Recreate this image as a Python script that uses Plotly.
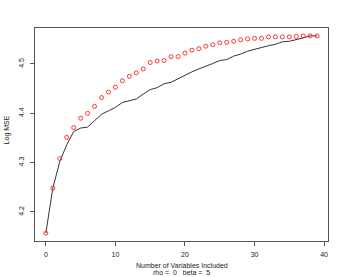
import plotly.graph_objects as go

n_vars = list(range(40))
line_logmse = [4.157, 4.248, 4.302, 4.336, 4.363, 4.370, 4.372, 4.385, 4.398, 4.405,
               4.412, 4.422, 4.425, 4.429, 4.439, 4.448, 4.452, 4.460, 4.463, 4.470,
               4.478, 4.484, 4.490, 4.495, 4.501, 4.507, 4.509, 4.516, 4.520, 4.526,
               4.530, 4.533, 4.537, 4.540, 4.545, 4.546, 4.549, 4.553, 4.557, 4.557]
point_logmse = [4.157, 4.248, 4.308, 4.351, 4.371, 4.390, 4.400, 4.414, 4.432, 4.443,
                4.453, 4.466, 4.475, 4.482, 4.490, 4.503, 4.506, 4.507, 4.515, 4.515,
                4.522, 4.528, 4.531, 4.536, 4.539, 4.543, 4.544, 4.546, 4.549, 4.551,
                4.552, 4.552, 4.555, 4.555, 4.555, 4.555, 4.556, 4.557, 4.557, 4.557]
x_ticks = [0, 10, 20, 30, 40]
y_ticks = [4.2, 4.3, 4.4, 4.5]
y_tick_labels = ["4.2", "4.3", "4.4", "4.5"]

font_family = "Liberation Sans, Arial, sans-serif"
txt = "#222222"

fig = go.Figure()
fig.add_trace(go.Scatter(x=n_vars, y=line_logmse, mode="lines",
                         line=dict(color="#333333", width=1), showlegend=False))
fig.add_trace(go.Scatter(x=n_vars, y=point_logmse, mode="markers",
                         marker=dict(symbol="circle-open", size=4, color="#ff3333",
                                     line=dict(width=1, color="#ff3333")),
                         showlegend=False))

ymin, ymax = min(line_logmse + point_logmse), max(line_logmse + point_logmse)
pad = (ymax - ymin) * 0.04

fig.update_layout(
    width=346, height=277,
    margin=dict(l=35, r=18, t=28, b=36),
    paper_bgcolor="white", plot_bgcolor="white",
    font=dict(family=font_family, size=7, color=txt),
    xaxis=dict(range=[-39 * 0.04, 39 * 1.04], tickvals=x_ticks, ticks="outside",
               ticklen=4, tickcolor="#555555", showline=True, linecolor="#555555",
               linewidth=1, mirror=True, showgrid=False, zeroline=False,
               tickfont=dict(size=7, color=txt), automargin=False,
               ticklabelstandoff=3),
    yaxis=dict(range=[ymin - pad, ymax + pad], tickvals=y_ticks, ticktext=y_tick_labels,
               ticks="outside", ticklen=4, tickcolor="#555555", showline=True,
               linecolor="#555555", linewidth=1, mirror=True, showgrid=False,
               zeroline=False, tickangle=-90, tickfont=dict(size=7, color=txt),
               automargin=False, ticklabelstandoff=3),
    annotations=[
        dict(text="Number of Variables Included", xref="paper", yref="paper",
             x=0.5, y=-0.115, yanchor="middle", showarrow=False,
             font=dict(size=7, color=txt)),
        dict(text="rho =  0   beta =  5", xref="paper", yref="paper",
             x=0.5, y=-0.15, yanchor="middle", showarrow=False,
             font=dict(size=7, color=txt)),
        dict(text="Log MSE", xref="paper", yref="paper", x=-0.095, y=0.52,
             xanchor="center", yanchor="middle", textangle=-90, showarrow=False,
             font=dict(size=7, color=txt)),
    ],
)

fig.write_html("out.html", config={"displayModeBar": False},
               post_script="document.body.style.margin='0';document.body.style.overflow='hidden';")
